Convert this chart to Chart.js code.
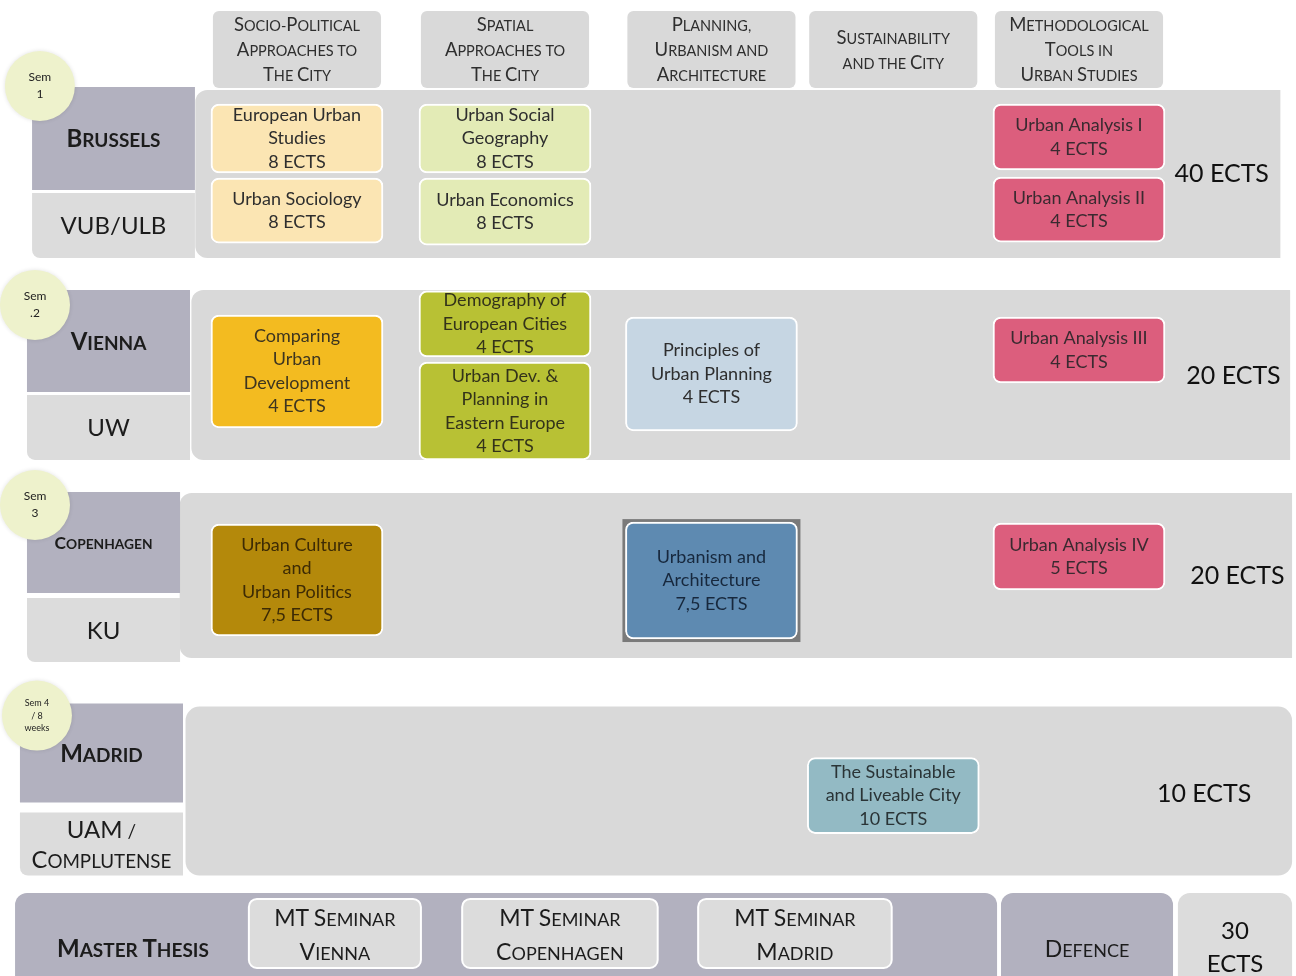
<!DOCTYPE html>
<html><head><meta charset="utf-8">
<script src="https://cdn.jsdelivr.net/npm/chart.js@4.4.1/dist/chart.umd.min.js"></script>
<style>html,body{margin:0;padding:0;background:#fff}#wrap{width:1296px;height:976px}</style>
</head><body><div id="wrap"><canvas id="c" width="1296" height="976"></canvas></div>
<script>
// ---------------- DATA ----------------
const themes = ['Socio-Political\nApproaches to\nThe City', 'Spatial\nApproaches to\nThe City', 'Planning,\nUrbanism and\nArchitecture', 'Sustainability\nand the City', 'Methodological\nTools in\nUrban Studies'];
const semLabels = ['Sem\n1', 'Sem\n.2', 'Sem\n3', 'Sem 4\n/ 8\nweeks'];
const cities = ['Brussels', 'Vienna', 'Copenhagen', 'Madrid'];
const universities = ['VUB/ULB', 'UW', 'KU', 'UAM /\nComplutense'];
const semEcts = [40, 20, 20, 10];
const courseNames = ['European Urban\nStudies', 'Urban Sociology', 'Urban Social\nGeography', 'Urban Economics', 'Urban Analysis I', 'Urban Analysis II',
  'Comparing\nUrban\nDevelopment', 'Demography of\nEuropean Cities', 'Urban Dev. &\nPlanning in\nEastern Europe', 'Principles of\nUrban Planning', 'Urban Analysis III',
  'Urban Culture\nand\nUrban Politics', 'Urbanism and\nArchitecture', 'Urban Analysis IV',
  'The Sustainable\nand Liveable City'];
const courseEcts = [8, 8, 8, 8, 4, 4, 4, 4, 4, 4, 4, 7.5, 7.5, 5, 10];
const courseTheme = [0, 0, 1, 1, 4, 4, 0, 1, 1, 2, 4, 0, 2, 4, 3];
const courseSem = [0, 0, 0, 0, 0, 0, 1, 1, 1, 1, 1, 2, 2, 2, 3];
const thesisLabel = 'Master Thesis';
const thesisSeminars = ['Vienna', 'Copenhagen', 'Madrid'];
const defenceLabel = 'Defence';
const thesisEcts = 30;

// ---------------- LAYOUT (scale units) ----------------
const X_MIN = -1.519, X_MAX = 5.110, Y_MIN = -0.536, Y_MAX = 5.274;
const themeCol = [0, 1.064, 2.12, 3.05, 4.0];
const semBase = [0, 1.19, 2.399, 3.67];
const slotTop = [0.083, 0.524, 0.083, 0.524, 0.083, 0.518, 0.149, 0.006, 0.429, 0.161, 0.161, 0.185, 0.173, 0.179, 0.304];
const slotBot = [0.494, 0.911, 0.494, 0.923, 0.476, 0.905, 0.821, 0.399, 1.012, 0.839, 0.554, 0.851, 0.869, 0.577, 0.756];
const headerHalf = 0.43, headerTop = -0.470, headerBot = -0.012, headerMid = -0.24;
const panelL = [-0.52, -0.54, -0.60, -0.57], panelR = [5.03, 5.08, 5.09, 5.09], panelB = [1.0, 1.012, 0.982, 1.006];
const labL = [-1.355, -1.381, -1.381, -1.417], labR = [-0.522, -0.547, -0.598, -0.583];
const darkT = [-0.018, 0, -0.006, -0.018], darkB = [0.595, 0.607, 0.595, 0.571];
const lightT = [0.613, 0.625, 0.625, 0.631], lightB = [1.0, 1.012, 1.006, 1.006];
const ectsX = [4.73, 4.79, 4.81, 4.64], ectsY = [0.5, 0.512, 0.494, 0.518];
const circX = [-1.315, -1.34, -1.34, -1.33], circY = [-0.024, 0.089, 0.071, 0.054];
const mtTop = 4.78, mtBot = 5.32, mtL = -1.442, mtR = 3.581, mtTextX = -0.839, mtTextY = 5.107;
const semCx = [0.194, 1.345, 2.547], semHalf = [0.44, 0.50, 0.495], semT = 4.815, semB = 5.226, semL1 = 4.929, semL2 = 5.131;
const defL = 3.601, defR = 4.481, defTextY = 5.113;
const totL = 4.506, totR = 5.09, totY1 = 5.006, totY2 = 5.202;

// ---------------- STYLE ----------------
const FONT = 'Lato, "Open Sans", sans-serif';
const courseColors = ['#fbe5b3', '#fbe5b3', '#e3ebb6', '#e3ebb6', '#dc5e7d', '#dc5e7d', '#f3bb20', '#b8c134', '#b8c134', '#c6d6e3', '#dc5e7d', '#b4890b', '#5e8ab1', '#dc5e7d', '#93bac4'];
const courseText = ['#2e2e2e', '#2e2e2e', '#2e2e2e', '#2e2e2e', '#3a2a30', '#3a2a30', '#3d3520', '#33331a', '#33331a', '#2e2e2e', '#3a2a30', '#3d2b05', '#17283d', '#3a2a30', '#2a3436'];
const GRAY = '#d9d9d9', DARK = '#b2b1bf', LIGHT = '#dcdcdc', CIRCLE = '#eef2cc';

function rr(ctx, x0, y0, x1, y1, r, fill, stroke, lw) {
  ctx.beginPath();
  ctx.roundRect(Math.min(x0, x1), Math.min(y0, y1), Math.abs(x1 - x0), Math.abs(y1 - y0), r);
  if (fill) { ctx.fillStyle = fill; ctx.fill(); }
  if (stroke) { ctx.strokeStyle = stroke; ctx.lineWidth = lw || 2; ctx.stroke(); }
}
function smallCaps(ctx, text, cx, cy, big, small, weight, color, maxW) {
  const runs = [];
  let last = big;
  for (const ch of text) {
    const isLetter = ch.toLowerCase() !== ch.toUpperCase();
    let sz = isLetter ? (ch === ch.toLowerCase() ? small : big) : last;
    if (ch === ' ') sz = small;
    last = sz;
    const c = ch.toUpperCase();
    if (runs.length && runs[runs.length - 1].sz === sz) runs[runs.length - 1].t += c; else runs.push({ t: c, sz });
  }
  let scale = 1, w = 0;
  const measure = (s) => { w = 0; for (const r of runs) { ctx.font = `${weight} ${r.sz * s}px ${FONT}`; w += ctx.measureText(r.t).width; } return w; };
  measure(1);
  if (maxW && w > maxW) { scale = maxW / w; measure(scale); }
  let x = cx - w / 2;
  const base = cy + big * scale * 0.36;
  ctx.fillStyle = color; ctx.textBaseline = 'alphabetic'; ctx.textAlign = 'left';
  for (const r of runs) { ctx.font = `${weight} ${r.sz * scale}px ${FONT}`; ctx.fillText(r.t, x, base); x += ctx.measureText(r.t).width; }
}
function plainText(ctx, text, cx, cy, size, weight, color) {
  ctx.font = `${weight} ${size}px ${FONT}`; ctx.fillStyle = color; ctx.textAlign = 'center'; ctx.textBaseline = 'middle';
  ctx.fillText(text, cx, cy);
}

const backdrop = {
  id: 'backdrop',
  beforeDatasetsDraw(chart) {
    const ctx = chart.ctx, xs = chart.scales.x, ys = chart.scales.y;
    const X = v => xs.getPixelForValue(v), Y = v => ys.getPixelForValue(v);
    ctx.save();
    // header boxes
    themes.forEach((t, i) => {
      rr(ctx, X(themeCol[i] - headerHalf), Y(headerTop), X(themeCol[i] + headerHalf), Y(headerBot), 6, GRAY);
      const lines = t.split('\n');
      lines.forEach((ln, k) => smallCaps(ctx, ln, X(themeCol[i]), Y(headerMid) + (k - (lines.length - 1) / 2) * 25, 18.5, 14.5, 400, '#2e2e2e'));
    });
    // semester panels & labels
    cities.forEach((c, s) => {
      const b = semBase[s];
      const rad = s === 3 ? [14, 14, 14, 14] : [12, 0, 0, 12];
      rr(ctx, X(panelL[s]), Y(b), X(panelR[s]), Y(b + panelB[s]), rad, GRAY);
      rr(ctx, X(labL[s]), Y(b + darkT[s]), X(labR[s]), Y(b + darkB[s]), [12, 0, 0, 0], DARK);
      rr(ctx, X(labL[s]), Y(b + lightT[s]), X(labR[s]), Y(b + lightB[s]), [0, 0, 0, 8], LIGHT);
      const lx = (X(labL[s]) + X(labR[s])) / 2;
      smallCaps(ctx, c, lx, (Y(b + darkT[s]) + Y(b + darkB[s])) / 2, 24, 19, 700, '#1c1c1c', 98);
      const ul = universities[s].split('\n');
      const uy = (Y(b + lightT[s]) + Y(b + lightB[s])) / 2;
      ul.forEach((ln, k) => smallCaps(ctx, ln, lx, uy + (k - (ul.length - 1) / 2) * 30, 24, 19, 400, '#1c1c1c', 140));
      plainText(ctx, semEcts[s] + ' ECTS', X(ectsX[s]), Y(b + ectsY[s]), 25, 400, '#111');
      // circle
      const cx = X(circX[s]), cy = Y(b + circY[s]);
      ctx.save();
      ctx.shadowColor = 'rgba(0,0,0,0.12)'; ctx.shadowBlur = 4;
      ctx.beginPath(); ctx.arc(cx, cy, 35, 0, Math.PI * 2); ctx.fillStyle = CIRCLE; ctx.fill();
      ctx.restore();
      const sl = semLabels[s].split('\n');
      const fs = sl.length > 2 ? 9 : 12, lh = sl.length > 2 ? 12.5 : 17;
      sl.forEach((ln, k) => plainText(ctx, ln, cx, cy + (k - (sl.length - 1) / 2) * lh, fs, 400, '#222'));
    });
    // master thesis row
    rr(ctx, X(mtL), Y(mtTop), X(mtR), Y(mtBot), [12, 12, 0, 0], DARK);
    smallCaps(ctx, thesisLabel, X(mtTextX), Y(mtTextY), 24, 19, 700, '#1c1c1c');
    thesisSeminars.forEach((c, i) => {
      rr(ctx, X(semCx[i] - semHalf[i]), Y(semT), X(semCx[i] + semHalf[i]), Y(semB), 8, LIGHT, '#ffffff', 2);
      smallCaps(ctx, 'MT Seminar', X(semCx[i]), Y(semL1), 23, 18, 400, '#1c1c1c');
      smallCaps(ctx, c, X(semCx[i]), Y(semL2), 23, 18, 400, '#1c1c1c');
    });
    rr(ctx, X(defL), Y(mtTop), X(defR), Y(mtBot), [12, 12, 0, 0], DARK);
    smallCaps(ctx, defenceLabel, (X(defL) + X(defR)) / 2, Y(defTextY), 23, 18, 400, '#1c1c1c');
    rr(ctx, X(totL), Y(mtTop), X(totR), Y(mtBot), [12, 12, 0, 0], LIGHT);
    plainText(ctx, String(thesisEcts), (X(totL) + X(totR)) / 2, Y(totY1), 24, 400, '#111');
    plainText(ctx, 'ECTS', (X(totL) + X(totR)) / 2, Y(totY2), 24, 400, '#111');
    // frame behind "Urbanism and Architecture"
    const el = chart.getDatasetMeta(0).data[12];
    if (el) {
      const p = el.getProps(['x', 'y', 'base', 'width'], true);
      ctx.fillStyle = '#7a7a7a';
      ctx.fillRect(p.x - p.width / 2 - 3, Math.min(p.y, p.base) - 3, p.width + 6, Math.abs(p.base - p.y) + 6);
    }
    ctx.restore();
  },
  afterDatasetsDraw(chart) {
    const ctx = chart.ctx;
    const meta = chart.getDatasetMeta(0);
    ctx.save();
    meta.data.forEach((el, i) => {
      const p = el.getProps(['x', 'y', 'base'], true);
      const lines = courseNames[i].split('\n').concat([String(courseEcts[i]).replace('.', ',') + ' ECTS']);
      const cy = (p.y + p.base) / 2;
      lines.forEach((ln, k) => plainText(ctx, ln, p.x, cy + (k - (lines.length - 1) / 2) * 23.5, 18, 400, courseText[i]));
    });
    ctx.restore();
  }
};

new Chart(document.getElementById('c'), {
  type: 'bar',
  data: {
    datasets: [{
      data: courseNames.map((n, i) => ({ x: themeCol[courseTheme[i]], y: [semBase[courseSem[i]] + slotTop[i], semBase[courseSem[i]] + slotBot[i]] })),
      backgroundColor: courseColors,
      borderColor: '#ffffff',
      borderWidth: 2,
      borderRadius: 8,
      borderSkipped: false,
      barThickness: 172
    }]
  },
  options: {
    responsive: false,
    animation: false,
    layout: { padding: 0 },
    plugins: { legend: { display: false }, tooltip: { enabled: false }, title: { display: false } },
    scales: {
      x: { type: 'linear', min: X_MIN, max: X_MAX, offset: false, display: false },
      y: { type: 'linear', min: Y_MIN, max: Y_MAX, reverse: true, display: false }
    }
  },
  plugins: [backdrop]
});
</script>
</body></html>
